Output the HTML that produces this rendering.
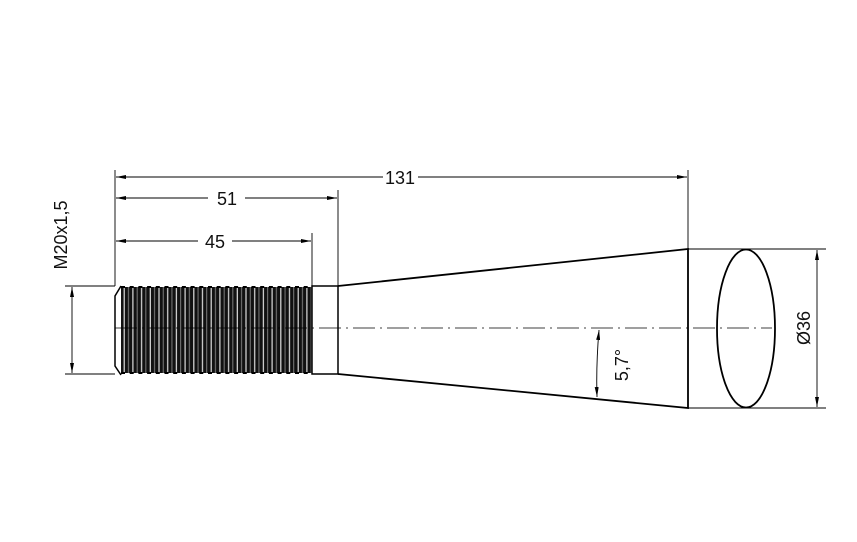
<!DOCTYPE html>
<html><head><meta charset="utf-8"><style>body{margin:0;background:#fff}svg{display:block}</style></head>
<body>
<svg width="857" height="542" viewBox="0 0 857 542" xmlns="http://www.w3.org/2000/svg" font-family="Liberation Sans, sans-serif">
<defs>
<pattern id="th" x="121" y="0" width="8.7" height="10" patternUnits="userSpaceOnUse">
<rect width="8.7" height="10" fill="#111"/>
<rect x="2.6" width="1.2" height="10" fill="#ddd"/>
<rect x="7" width="0.9" height="10" fill="#888"/>
</pattern>
<marker id="a" viewBox="0 0 10 4" refX="10" refY="2" markerWidth="10" markerHeight="4" orient="auto-start-reverse" markerUnits="userSpaceOnUse"><path d="M0,0L10,2L0,4z" fill="#000"/></marker>
</defs>
<g stroke="#000" fill="none">
<rect x="121" y="287" width="191" height="86" fill="url(#th)" stroke="none"/>
<path d="M121,287 L312,287 M121,373 L312,373" stroke-width="2" stroke-dasharray="4,4.7"/>
<path d="M121,286 L115,296 L115,366 L121,375" stroke-width="1.5"/>
<path d="M312,286 H338 V374 H312 Z" stroke-width="1.5"/>
<path d="M338,286 L688,249 L688,408 L338,374" stroke-width="1.8"/>
<path d="M688,249 H826 M688,408 H826" stroke-width="1"/>
<ellipse cx="746" cy="328.5" rx="29" ry="79" stroke-width="1.8"/>
<path d="M115,328 H772" stroke-width="0.8" stroke-dasharray="22,5,2,5"/>
<path d="M115,170 V286 M338,190 V286 M312,233 V286 M688,170 V249 M65,286 H115 M65,374 H115" stroke-width="0.9"/>
<path d="M116,177 H383 M418,177 H687" stroke-width="0.9" marker-start="url(#a)" marker-end="url(#a)"/>
<path d="M116,198 H208 M245,198 H337" stroke-width="0.9" marker-start="url(#a)" marker-end="url(#a)"/>
<path d="M116,241 H198 M232,241 H311" stroke-width="0.9" marker-start="url(#a)" marker-end="url(#a)"/>
<path d="M72,287 V373" stroke-width="0.9" marker-start="url(#a)" marker-end="url(#a)"/>
<path d="M817,250 V407" stroke-width="0.9" marker-start="url(#a)" marker-end="url(#a)"/>
<path d="M599,330 Q596,365 597,397" stroke-width="0.9" marker-start="url(#a)" marker-end="url(#a)"/>
</g>
<g font-size="18" fill="#111" text-anchor="middle">
<text x="400" y="184">131</text>
<text x="227" y="205">51</text>
<text x="215" y="248">45</text>
<text transform="translate(67,235) rotate(-90)">M20x1,5</text>
<text transform="translate(810,328) rotate(-90)">Ø36</text>
<text transform="translate(628,365) rotate(-90)">5,7°</text>
</g>
</svg>
</body></html>
